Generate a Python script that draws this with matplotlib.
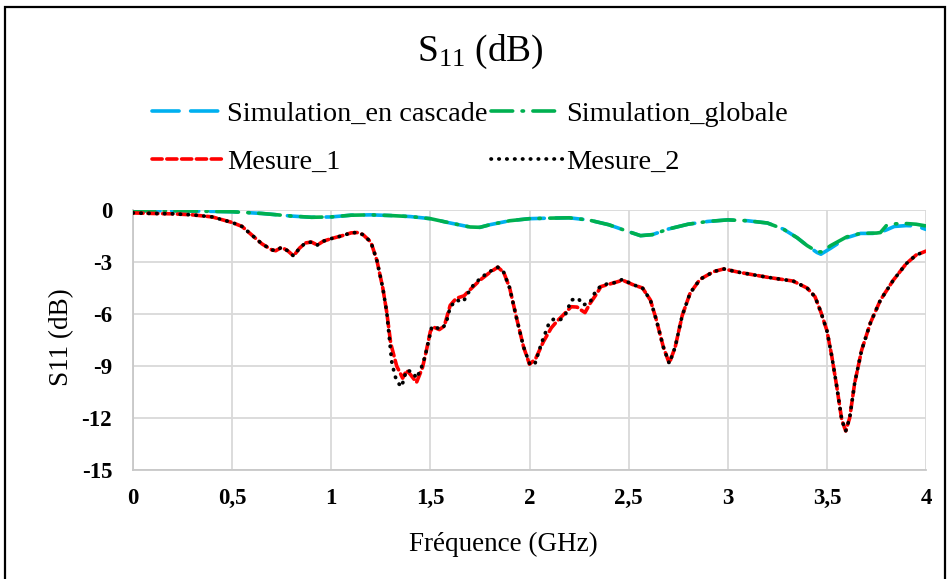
import matplotlib
matplotlib.use("Agg")
import matplotlib.pyplot as plt
from matplotlib.patches import Rectangle

# --- data -----------------------------------------------------------------
freq_sim = [0.0, 0.25, 0.5, 0.65, 0.8, 0.9, 1.0, 1.1, 1.2, 1.3, 1.4, 1.5, 1.6,
            1.7, 1.75, 1.8, 1.9, 2.0, 2.1, 2.2, 2.3, 2.4, 2.5, 2.56, 2.62, 2.7,
            2.8, 2.9, 3.0, 3.1, 3.2, 3.28, 3.35, 3.4, 3.45, 3.47, 3.52, 3.6,
            3.67, 3.75, 3.77, 3.8, 3.84, 3.9, 3.95, 4.0]
s11_cascade = [-0.05, -0.05, -0.1, -0.2, -0.35, -0.42, -0.4, -0.3, -0.28, -0.32,
               -0.38, -0.5, -0.75, -0.98, -1.0, -0.85, -0.62, -0.5, -0.47, -0.45,
               -0.58, -0.85, -1.25, -1.48, -1.42, -1.1, -0.82, -0.66, -0.57,
               -0.62, -0.75, -1.1, -1.6, -2.05, -2.45, -2.55, -2.2, -1.6, -1.35,
               -1.35, -1.28, -1.15, -0.95, -0.9, -0.92, -1.12]
s11_globale = [-0.05, -0.05, -0.1, -0.2, -0.35, -0.42, -0.4, -0.3, -0.28, -0.32,
               -0.38, -0.5, -0.75, -0.98, -1.0, -0.85, -0.62, -0.5, -0.47, -0.45,
               -0.58, -0.85, -1.25, -1.48, -1.42, -1.1, -0.82, -0.66, -0.57,
               -0.62, -0.75, -1.1, -1.6, -2.05, -2.4, -2.42, -2.05, -1.55, -1.35,
               -1.33, -1.3, -0.9, -0.8, -0.78, -0.82, -0.92]

freq_m1 = [0.0, 0.1, 0.2, 0.3, 0.4, 0.5, 0.55, 0.6, 0.65, 0.7, 0.72, 0.75, 0.78,
           0.81, 0.84, 0.87, 0.9, 0.93, 0.96, 1.0, 1.05, 1.1, 1.13, 1.16, 1.2,
           1.23, 1.26, 1.28, 1.3, 1.33, 1.36, 1.38, 1.4, 1.43, 1.46, 1.48, 1.5,
           1.515, 1.545, 1.57, 1.6, 1.63, 1.67, 1.7, 1.75, 1.8, 1.84, 1.87, 1.9,
           1.935, 1.97, 2.0, 2.03, 2.07, 2.11, 2.14, 2.17, 2.21, 2.24, 2.26, 2.28,
           2.305, 2.34, 2.36, 2.42, 2.47, 2.52, 2.57, 2.61, 2.64, 2.675, 2.705,
           2.735, 2.77, 2.81, 2.86, 2.93, 2.98, 3.06, 3.2, 3.33, 3.4, 3.44, 3.47,
           3.5, 3.525, 3.55, 3.575, 3.595, 3.615, 3.64, 3.675, 3.72, 3.77, 3.835,
           3.9, 3.95, 4.0]
s11_m1 = [-0.17, -0.2, -0.22, -0.28, -0.4, -0.72, -0.95, -1.45, -1.95, -2.3,
          -2.35, -2.15, -2.35, -2.65, -2.2, -1.9, -1.85, -2.02, -1.8, -1.65,
          -1.5, -1.32, -1.3, -1.42, -1.85, -2.9, -4.5, -5.9, -7.7, -9.0, -9.7,
          -9.25, -9.5, -9.95, -9.1, -8.1, -7.0, -6.75, -6.9, -6.7, -5.5, -5.1,
          -4.95, -4.6, -4.05, -3.6, -3.3, -3.6, -4.5, -6.25, -7.9, -8.9, -8.6,
          -7.6, -6.8, -6.4, -6.06, -5.58, -5.6, -5.77, -5.92, -5.4, -4.81, -4.42,
          -4.22, -4.05, -4.3, -4.5, -5.2, -6.35, -7.9, -8.85, -7.9, -6.1, -4.8,
          -4.0, -3.55, -3.4, -3.6, -3.88, -4.1, -4.5, -5.0, -5.9, -6.95, -8.45,
          -10.2, -12.1, -12.75, -12.0, -10.0, -8.1, -6.5, -5.2, -4.05, -3.1,
          -2.6, -2.37]

freq_m2 = [0.0, 0.1, 0.2, 0.3, 0.4, 0.5, 0.55, 0.6, 0.65, 0.7, 0.72, 0.75, 0.78,
           0.81, 0.84, 0.87, 0.9, 0.93, 0.96, 1.0, 1.05, 1.1, 1.13, 1.16, 1.2,
           1.23, 1.26, 1.28, 1.305, 1.322, 1.339, 1.355, 1.37, 1.38, 1.409,
           1.431, 1.456, 1.473, 1.49, 1.507, 1.53, 1.56, 1.58, 1.6, 1.63, 1.666,
           1.69, 1.717, 1.758, 1.8, 1.84, 1.87, 1.9, 1.935, 1.97, 2.003, 2.028,
           2.06, 2.095, 2.12, 2.154, 2.18, 2.212, 2.246, 2.27, 2.305, 2.322,
           2.356, 2.39, 2.43, 2.47, 2.52, 2.57, 2.61, 2.64, 2.675, 2.705, 2.735,
           2.77, 2.81, 2.86, 2.93, 2.98, 3.06, 3.2, 3.33, 3.4, 3.44, 3.47, 3.5,
           3.525, 3.55, 3.575, 3.595, 3.615, 3.64, 3.675, 3.72, 3.77, 3.835, 3.9,
           3.95, 4.0]
s11_m2 = [-0.17, -0.2, -0.22, -0.28, -0.4, -0.72, -0.95, -1.45, -1.95, -2.3,
          -2.35, -2.15, -2.35, -2.65, -2.2, -1.9, -1.85, -2.02, -1.8, -1.65,
          -1.5, -1.32, -1.3, -1.42, -1.85, -2.9, -4.5, -5.9, -8.75, -9.6, -10.0,
          -10.2, -9.6, -9.25, -9.33, -9.71, -9.04, -8.46, -7.6, -6.73, -6.8,
          -6.85, -6.5, -5.6, -5.2, -5.29, -4.8, -4.33, -3.88, -3.55, -3.3, -3.6,
          -4.5, -6.25, -7.9, -8.94, -8.85, -7.7, -6.63, -6.31, -6.35, -6.06,
          -5.19, -5.1, -5.48, -5.35, -4.9, -4.42, -4.27, -4.19, -4.0, -4.3,
          -4.5, -5.2, -6.35, -7.9, -8.85, -7.9, -6.1, -4.8, -4.0, -3.55, -3.4,
          -3.6, -3.88, -4.1, -4.5, -5.0, -5.9, -6.95, -8.45, -10.2, -12.1,
          -12.75, -12.0, -10.0, -8.1, -6.5, -5.2, -4.05, -3.1, -2.6, -2.37]

series_names = ["Simulation_en cascade", "Simulation_globale", "Mesure_1", "Mesure_2"]
x_ticks = [0, 0.5, 1, 1.5, 2, 2.5, 3, 3.5, 4]
x_tick_labels = ["0", "0,5", "1", "1,5", "2", "2,5", "3", "3,5", "4"]
y_ticks = [-15, -12, -9, -6, -3, 0]
y_tick_labels = ["-15", "-12", "-9", "-6", "-3", "0"]

# --- style ----------------------------------------------------------------
SERIF = ["Liberation Serif", "DejaVu Serif"]
plt.rcParams["font.family"] = SERIF
plt.rcParams["mathtext.fontset"] = "custom"
plt.rcParams["mathtext.rm"] = "Liberation Serif"
plt.rcParams["mathtext.default"] = "regular"

W, H = 947, 579
fig = plt.figure(figsize=(W / 100, H / 100), dpi=100)
ax = fig.add_axes([133 / W, 1 - 470 / H, (926 - 133) / W, (470 - 210) / H])

# outer chart frame
fig.patches.append(Rectangle((5 / W, -0.05), (945 - 5) / W, 1 - 7 / H + 0.05,
                             transform=fig.transFigure, fill=False,
                             edgecolor="black", linewidth=1.6))

l1, = ax.plot(freq_sim, s11_cascade, color="#00B0F0", linewidth=2.6,
              dashes=(7.5, 3.2), dash_capstyle="round", zorder=3)
l2, = ax.plot(freq_sim, s11_globale, color="#00B050", linewidth=2.6,
              dashes=(6, 2.6, 0.4, 2.6), dash_capstyle="round", zorder=4)
l3, = ax.plot(freq_m1, s11_m1, color="#FF0000", linewidth=2.6,
              dashes=(2.8, 1.3), dash_capstyle="round", zorder=5)
l4, = ax.plot(freq_m2, s11_m2, color="black", linewidth=2.7,
              dashes=(0.1, 2.0), dash_capstyle="round", zorder=6)

ax.set_xlim(0, 4)
ax.set_ylim(-15, 0)
ax.set_xticks(x_ticks, x_tick_labels)
ax.set_yticks(y_ticks, y_tick_labels)
ax.tick_params(length=0, labelsize=16.5)
ax.tick_params(axis="x", pad=13)
ax.tick_params(axis="y", pad=15)
for lab in ax.get_xticklabels() + ax.get_yticklabels():
    lab.set_fontweight("bold")

ax.grid(True, color="#d9d9d9", linewidth=1.3)
ax.set_axisbelow(True)
for side in ("top", "right"):
    ax.spines[side].set_visible(False)
for side in ("left", "bottom"):
    ax.spines[side].set_color("#c8c8c8")
    ax.spines[side].set_linewidth(1.3)

fig.text(480 / W, 1 - 52 / H, r"S$_{11}$ (dB)", ha="center", va="center",
         fontsize=27)
fig.text(503.5 / W, 1 - 544 / H, "Fréquence (GHz)", ha="center", va="center",
         fontsize=19.5)
fig.text(62 / W, 1 - 337 / H, "S11 (dB)", ha="center", va="center",
         rotation=90, fontsize=19.5)

fig.legend([l1, l3, l2, l4],
           [series_names[0], series_names[2], series_names[1], series_names[3]],
           ncol=2, loc="upper left", bbox_to_anchor=(152 / W, 1 - 101 / H),
           frameon=False, fontsize=20.4, handlelength=2.55, handletextpad=0.1,
           columnspacing=0.12, labelspacing=0.8, borderpad=0, borderaxespad=0)

fig.savefig("out.png", dpi=100)
